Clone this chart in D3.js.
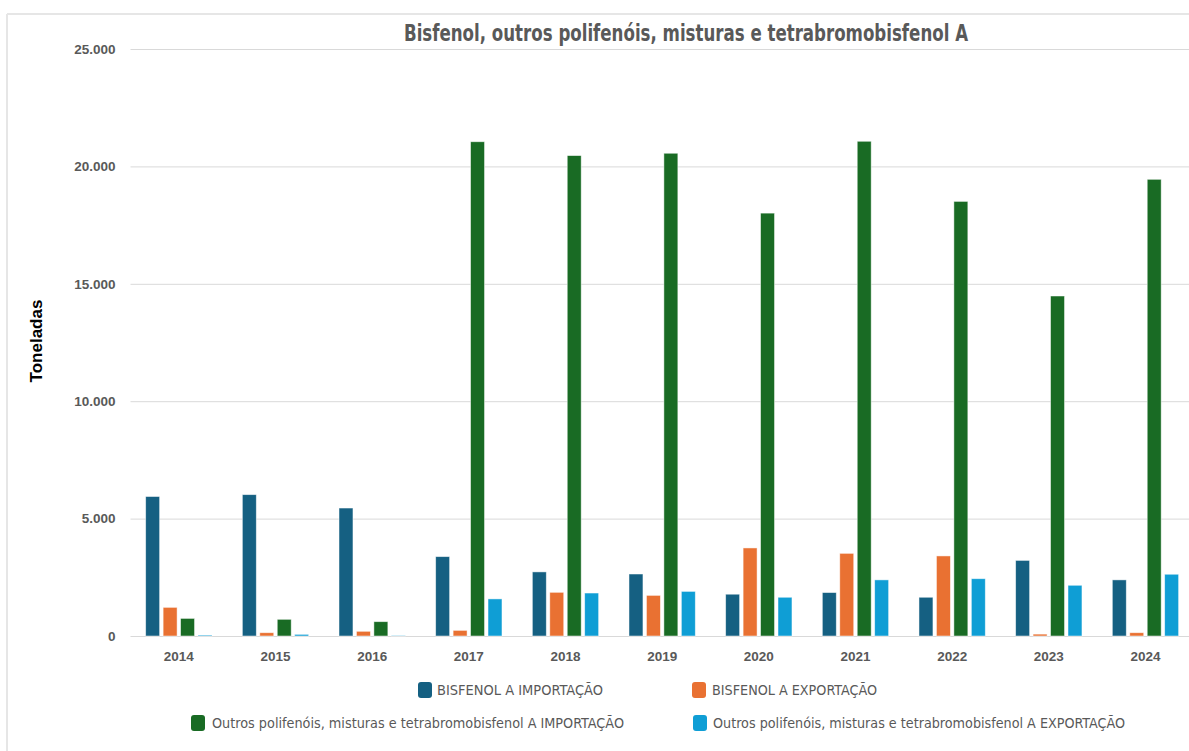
<!DOCTYPE html>
<html>
<head>
    <meta charset="utf-8">
    <title>Bisfenol, outros polifenóis, misturas e tetrabromobisfenol A</title>
    <script type="text/javascript" src="https://cdn.jsdelivr.net/npm/d3@7/dist/d3.min.js"></script>
    <style type="text/css">
        html, body {
            margin: 0;
            background: #fff;
        }
        svg {
            display: block;
        }
        .tick text {
            font-family: "Liberation Sans", Arial, sans-serif;
            font-weight: bold;
            font-size: 13.5px;
            fill: #595959;
        }
        .grid line {
            stroke: #d9d9d9;
            stroke-width: 1;
        }
    </style>
</head>
<body>
<script type="text/javascript">
    // dados (toneladas)
    var anos = ["2014","2015","2016","2017","2018","2019","2020","2021","2022","2023","2024"];
    var series = [
        "BISFENOL A IMPORTAÇÃO",
        "BISFENOL A EXPORTAÇÃO",
        "Outros polifenóis, misturas e tetrabromobisfenol A IMPORTAÇÃO",
        "Outros polifenóis, misturas e tetrabromobisfenol A EXPORTAÇÃO"
    ];
    var bisfenolImp = [5940, 6020, 5450, 3380, 2730, 2640, 1780, 1850, 1650, 3220, 2390];
    var bisfenolExp = [1220, 140, 200, 240, 1860, 1730, 3750, 3520, 3410, 80, 140];
    var outrosImp   = [750, 710, 610, 21050, 20460, 20560, 18010, 21070, 18510, 14480, 19450];
    var outrosExp   = [40, 70, 20, 1580, 1830, 1900, 1650, 2390, 2440, 2160, 2630];
    var yTicks = [0, 5000, 10000, 15000, 20000, 25000];
    var cores = ["#156082", "#E97132", "#196B24", "#0F9ED5"];

    var valores = [bisfenolImp, bisfenolExp, outrosImp, outrosExp];
    var width = 1189, height = 751;
    var mLeft = 130.5, mRight = 1193.8, mTop = 49, mBottom = 636;

    var svg = d3.select("body").append("svg")
        .attr("width", width)
        .attr("height", height);

    // moldura
    svg.append("line").attr("x1", 7).attr("x2", width).attr("y1", 14).attr("y2", 14)
        .attr("stroke", "#e6e6e6").attr("stroke-width", 2);
    svg.append("line").attr("x1", 7).attr("x2", 7).attr("y1", 14).attr("y2", height)
        .attr("stroke", "#e6e6e6").attr("stroke-width", 2);

    var ptBR = d3.formatLocale({decimal: ",", thousands: ".", grouping: [3], currency: ["R$", ""]});
    var fmt = ptBR.format(",.0f");

    var y = d3.scaleLinear().domain([0, 25000]).range([mBottom, mTop]);
    var x0 = d3.scaleBand().domain(anos).range([mLeft, mRight])
        .paddingInner(0.314).paddingOuter(0.157);
    var x1 = d3.scaleBand().domain(d3.range(series.length)).range([0, x0.bandwidth()])
        .paddingInner(0.2);

    // grade + eixo y
    var gy = svg.append("g")
        .attr("class", "grid")
        .attr("transform", "translate(" + mLeft + ",0)")
        .call(d3.axisLeft(y).tickValues(yTicks).tickFormat(fmt)
            .tickSize(-(width - mLeft)).tickPadding(15));
    gy.select(".domain").remove();

    // barras
    var grupos = svg.append("g").selectAll("g")
        .data(anos)
        .join("g")
        .attr("transform", function (d) { return "translate(" + x0(d) + ",0)"; });

    grupos.selectAll("rect")
        .data(function (d, i) {
            return valores.map(function (v, s) { return {s: s, v: v[i]}; });
        })
        .join("rect")
        .attr("x", function (d) { return x1(d.s); })
        .attr("width", x1.bandwidth())
        .attr("y", function (d) { return y(d.v); })
        .attr("height", function (d) { return y(0) - y(d.v); })
        .attr("fill", function (d) { return cores[d.s]; })
        .attr("stroke", "#ffffff")
        .attr("stroke-opacity", 0.6)
        .attr("stroke-width", 0.8);

    // eixo x
    var gx = svg.append("g")
        .attr("transform", "translate(0," + mBottom + ")")
        .call(d3.axisBottom(x0).tickSize(0).tickPadding(15));
    gx.select(".domain").remove();

    // título
    svg.append("text")
        .attr("x", 404)
        .attr("y", 41)
        .attr("textLength", 564)
        .attr("lengthAdjust", "spacingAndGlyphs")
        .style("font-family", "'Liberation Sans Narrow', 'DejaVu Sans Condensed', 'Roboto', sans-serif")
        .style("font-weight", "bold")
        .style("font-size", "23px")
        .style("fill", "#595959")
        .text("Bisfenol, outros polifenóis, misturas e tetrabromobisfenol A");

    // rótulo do eixo y
    svg.append("text")
        .attr("transform", "translate(42,341) rotate(-90)")
        .attr("text-anchor", "middle")
        .style("font-family", "'Liberation Sans', Arial, sans-serif")
        .style("font-weight", "bold")
        .style("font-size", "17px")
        .style("fill", "#000")
        .text("Toneladas");

    // legenda
    var legPos = [
        {x: 418, tx: 437, y: 690, w: 166},
        {x: 692, tx: 712, y: 690, w: 165},
        {x: 191, tx: 212, y: 723, w: 412},
        {x: 693, tx: 713, y: 723, w: 412}
    ];
    var leg = svg.append("g").selectAll("g")
        .data(series)
        .join("g");
    leg.append("rect")
        .attr("x", function (d, i) { return legPos[i].x; })
        .attr("y", function (d, i) { return legPos[i].y - 8; })
        .attr("width", 14)
        .attr("height", 16)
        .attr("rx", 3)
        .attr("fill", function (d, i) { return cores[i]; });
    leg.append("text")
        .attr("x", function (d, i) { return legPos[i].tx; })
        .attr("y", function (d, i) { return legPos[i].y + 5; })
        .attr("textLength", function (d, i) { return legPos[i].w; })
        .attr("lengthAdjust", "spacingAndGlyphs")
        .style("font-family", "'Liberation Sans Narrow', 'DejaVu Sans Condensed', 'Roboto', sans-serif")
        .style("font-size", "14.5px")
        .style("fill", "#595959")
        .text(function (d) { return d; });
</script>
</body>
</html>
